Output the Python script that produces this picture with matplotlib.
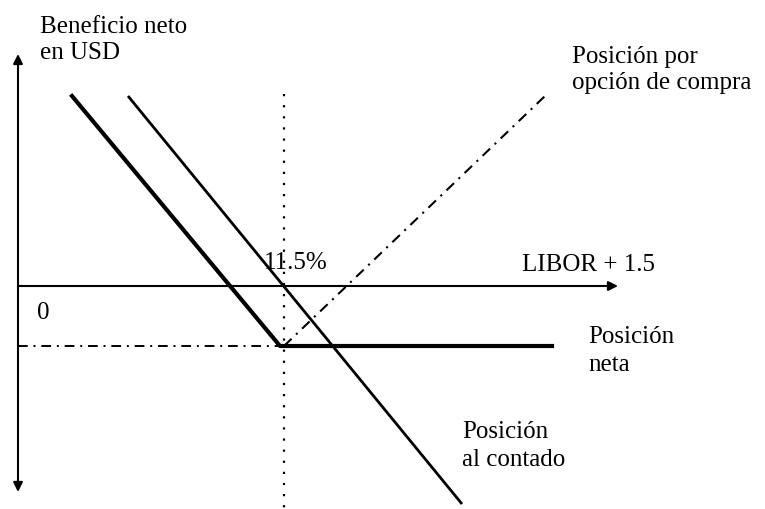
import numpy as np
from matplotlib import pyplot as plt

# esquema: beneficio neto vs. tipo (unidades del dibujo)
strike_x = 26.6
premium_y = -6.0

# posicion al contado (recta)
spot_x = [11.0, 44.4]
spot_y = [19.0, -21.8]

# posicion neta (quebrada en el strike)
net_x = [5.4, 26.2, 53.4]
net_y = [19.0, -6.0, -6.0]

# opcion de compra
call_x = [26.6, 52.7]
call_y = [-6.0, 19.0]

# ejes
yaxis_range = [-20.6, 23.2]
xaxis_end = 60.0
dotted_range = [19.2, -22.3]

plt.rcParams['font.family'] = ['Liberation Serif', 'DejaVu Serif']
fs = 18

fig = plt.figure(figsize=(7.65, 5.1), dpi=100)
ax = fig.add_axes([0, 0, 1, 1])
ax.set_xlim(-1.8, 74.7)
ax.set_ylim(-22.3, 28.7)
ax.axis('off')

# eje vertical con flecha doble
ax.annotate('', xy=(0, yaxis_range[1]), xytext=(0, yaxis_range[0]),
	arrowprops=dict(arrowstyle='<|-|>', lw=1.5, color='black', mutation_scale=14,
		shrinkA=0, shrinkB=0))
# eje horizontal
ax.annotate('', xy=(xaxis_end, 0), xytext=(0, 0),
	arrowprops=dict(arrowstyle='-|>', lw=1.5, color='black', mutation_scale=14,
		shrinkA=0, shrinkB=0))

# lineas auxiliares
ax.plot([strike_x, strike_x], dotted_range, color='black', lw=1.6, linestyle=(0, (1, 4)))
ax.plot([0, strike_x], [premium_y, premium_y], color='black', lw=1.4, linestyle=(0, (5, 3, 1, 3)))

# posiciones
ax.plot(spot_x, spot_y, color='black', lw=2.0, solid_capstyle='butt')
ax.plot(net_x, net_y, color='black', lw=3.0, solid_joinstyle='round')
ax.plot(call_x, call_y, color='black', lw=1.5, linestyle=(0, (5, 3, 1, 3)))

# textos
ax.text(2.2, 24.7, 'Beneficio neto\nen USD', fontsize=fs, ha='left', va='center', linespacing=1.2)
ax.text(55.4, 21.7, 'Posición por\nopción de compra', fontsize=fs, ha='left', va='center', linespacing=1.2)
ax.text(27.8, 2.4, '11.5%', fontsize=fs, ha='center', va='center')
ax.text(50.4, 2.2, 'LIBOR + 1.5', fontsize=fs, ha='left', va='center')
ax.text(2.55, -2.6, '0', fontsize=fs, ha='center', va='center')
ax.text(57.0, -6.4, 'Posición\nneta', fontsize=fs, ha='left', va='center', linespacing=1.3)
ax.text(44.4, -15.9, 'Posición\nal contado', fontsize=fs, ha='left', va='center', linespacing=1.3)

fig.savefig('out.png', dpi=100)
